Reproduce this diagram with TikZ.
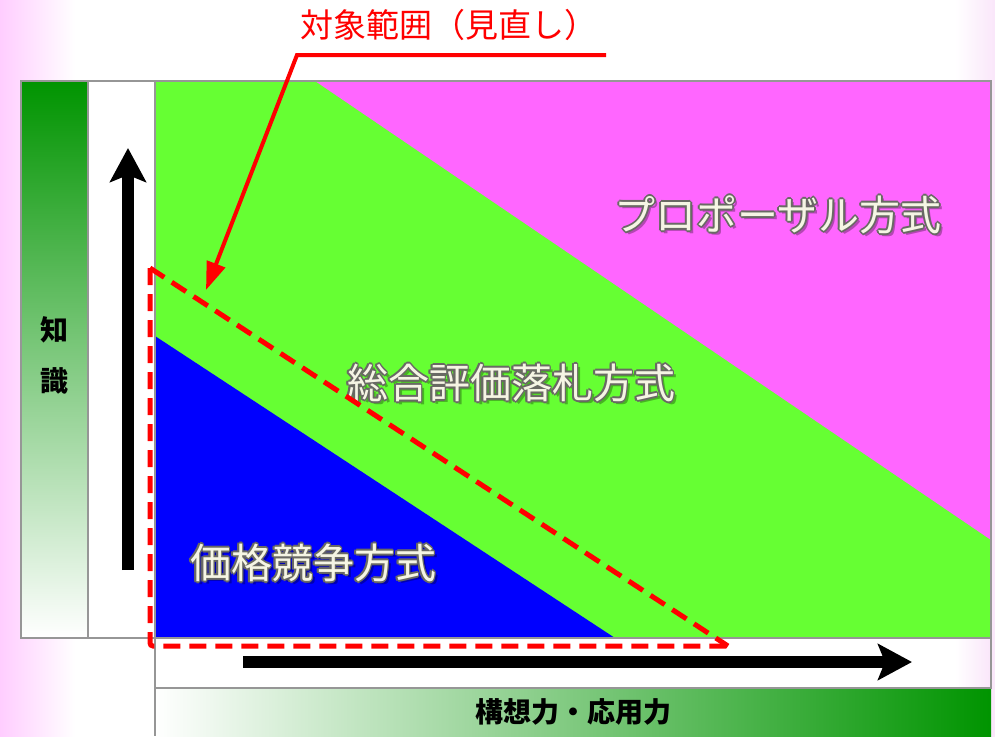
\documentclass[tikz,border=0pt]{standalone}
\usepackage{fontspec}
\newfontfamily\jp{Noto Sans CJK JP}
\usetikzlibrary{arrows.meta}
\definecolor{pinkbg}{RGB}{255,205,255}
\definecolor{pinkL}{RGB}{250,230,250}
\definecolor{gdark}{RGB}{0,148,0}
\definecolor{glime}{RGB}{102,255,51}
\definecolor{mag}{RGB}{255,102,255}
\definecolor{bluec}{RGB}{0,0,255}
\definecolor{framec}{RGB}{150,150,150}
\definecolor{creamc}{RGB}{245,245,228}
\definecolor{outc}{RGB}{105,105,100}
\definecolor{redc}{RGB}{255,0,0}
\tikzset{
  lbl/.style={font=\jp\fontsize{41}{43}\selectfont, inner sep=0pt},
  axlbl/.style={font=\jp\bfseries\fontsize{28}{30}\selectfont, inner sep=0pt, text=black},
  frame/.style={draw=framec, line width=1.5pt},
  bigarrow/.style={line width=12pt, -{Stealth[length=34pt,width=36pt,inset=7pt]}},
  dashbox/.style={draw=redc, line width=5pt, dash pattern=on 17pt off 9pt, rounded corners=3pt},
  callout/.style={draw=redc, line width=4pt, -{Triangle[length=28pt,width=19pt]}},
}
\newcommand\glowlabel[4]{%
  \node[lbl, text=black, opacity=0.3] at (#2+3,#3+3) {#4};
  \foreach \dx/\dy in {-1.8/0,1.8/0,0/-1.8,0/1.8,-1.3/-1.3,1.3/1.3,-1.3/1.3,1.3/-1.3}{
    \node[lbl, text=outc] at (#2+\dx,#3+\dy) {#4};}
  \node[lbl, text=creamc] (#1) at (#2,#3) {#4};
}
\begin{document}
\begin{tikzpicture}[x=1pt,y=-1pt]
\useasboundingbox (0,0) rectangle (995,736);
% background
\fill[white] (0,0) rectangle (995,736);
\shade[left color=pinkbg, right color=white] (0,0) rectangle (75,736);
\shade[left color=white, right color=pinkL] (955,0) rectangle (995,736);
% left green bar and white column
\shade[top color=gdark, bottom color=white] (21,81) rectangle (88,638);
\fill[white] (88,81) rectangle (155,638);
\draw[frame] (21,81) rectangle (88,638);
\draw[frame] (88,81) rectangle (155,638);
% bottom strip and bar
\fill[white] (155,638) rectangle (991,688);
\shade[left color=white, right color=pinkL] (955,638) rectangle (991,688);
\shade[left color=white, right color=gdark] (155,688) rectangle (991,736);
\draw[frame] (155,638) rectangle (991,688);
\draw[frame] (155,688) -- (155,736);
% chart areas
\fill[glime] (155,81) rectangle (991,638);
\fill[mag] (315,81) -- (991,81) -- (991,540) -- cycle;
\fill[bluec] (155,336) -- (155,638) -- (615,638) -- cycle;
\draw[frame] (155,81) rectangle (991,638);
% labels
\glowlabel{prop}{778}{215}{プロポーザル方式}
\glowlabel{sogo}{511}{383}{総合評価落札方式}
\glowlabel{kakaku}{313}{563}{価格競争方式}
\node[axlbl] (chi) at (54,330) {知};
\node[axlbl] (shiki) at (54,381) {識};
\node[axlbl] (koso) at (573,712) {構想力・応用力};
% axis arrows
\coordinate (upS) at (128,570);
\coordinate (upE) at (128,148);
\coordinate (rtS) at (243,662);
\coordinate (rtE) at (912,662);
\draw[bigarrow] (upS) -- (upE);
\draw[bigarrow] (rtS) -- (rtE);
% red dashed region
\coordinate (dA) at (150,268);
\coordinate (dB) at (150,646);
\coordinate (dC) at (728,646);
\draw[dashbox] (dA) -- (dB) -- (dC);
\draw[dashbox] (dA) -- (dC);
% callout
\node[font=\jp\fontsize{33}{35}\selectfont, text=redc, inner sep=0pt] (title) at (449,25) {対象範囲（見直し）};
\coordinate (cu) at (606,55);
\coordinate (ck) at (297,55);
\coordinate (ct) at (206,290);
\draw[callout] (cu) -- (ck) -- (ct);
\end{tikzpicture}
\end{document}
